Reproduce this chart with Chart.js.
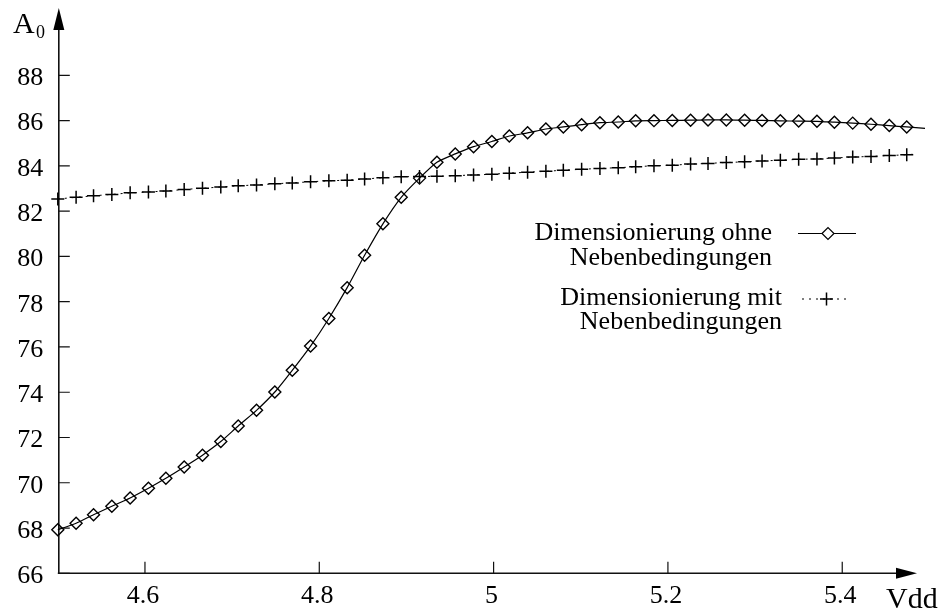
<!DOCTYPE html>
<html>
<head>
<meta charset="utf-8">
<title>A0 über Vdd</title>
<script src="https://cdn.jsdelivr.net/npm/chart.js@4.4.1/dist/chart.umd.min.js"></script>
<style>
    body { margin: 0; background: #fff; }
    #wrap { width: 946px; height: 614px; }
</style>
</head>
<body>
<div id="wrap"><canvas id="gainChart" width="946" height="614"></canvas></div>
<script>
// Vdd values of the marker points
const vddValues = [4.500, 4.521, 4.541, 4.562, 4.583, 4.604, 4.624, 4.645, 4.666, 4.687,
    4.707, 4.728, 4.749, 4.769, 4.790, 4.811, 4.832, 4.852, 4.873, 4.894,
    4.915, 4.935, 4.956, 4.977, 4.998, 5.018, 5.039, 5.060, 5.080, 5.101,
    5.122, 5.143, 5.163, 5.184, 5.205, 5.226, 5.246, 5.267, 5.288, 5.308,
    5.329, 5.350, 5.371, 5.391, 5.412, 5.433, 5.454, 5.474];

// A0 without constraints (diamonds)
const gainOhne = [67.92, 68.21, 68.59, 68.96, 69.33, 69.76, 70.20, 70.70, 71.22, 71.82,
    72.51, 73.20, 74.01, 74.97, 76.04, 77.26, 78.62, 80.05, 81.44, 82.61,
    83.46, 84.16, 84.53, 84.85, 85.08, 85.32, 85.46, 85.63, 85.72, 85.82,
    85.91, 85.94, 85.99, 86.00, 86.01, 86.02, 86.03, 86.03, 86.02, 86.01,
    85.99, 85.98, 85.97, 85.93, 85.89, 85.84, 85.78, 85.72];

// A0 with constraints (crosses)
const gainMit = [82.54, 82.61, 82.68, 82.74, 82.81, 82.85, 82.89, 82.96, 83.01, 83.07,
    83.12, 83.16, 83.21, 83.25, 83.30, 83.34, 83.37, 83.42, 83.48, 83.52,
    83.53, 83.54, 83.57, 83.60, 83.63, 83.68, 83.72, 83.76, 83.81, 83.85,
    83.89, 83.92, 83.96, 84.01, 84.03, 84.08, 84.11, 84.15, 84.18, 84.22,
    84.25, 84.29, 84.31, 84.35, 84.39, 84.42, 84.46, 84.49];

// the curves run on a little past the last marker
const ohneTail = [5.495, 85.66];
const mitTail = [5.485, 84.53];

const xTicks = [4.6, 4.8, 5, 5.2, 5.4];
const yTicks = [66, 68, 70, 72, 74, 76, 78, 80, 82, 84, 86, 88];

const legendOhne = ['Dimensionierung ohne', 'Nebenbedingungen'];
const legendMit = ['Dimensionierung mit', 'Nebenbedingungen'];

const SERIF = "'Liberation Serif', 'Times New Roman', serif";

function toPoints(xs, ys, tail) {
    const pts = xs.map((x, i) => ({ x: x, y: ys[i] }));
    pts.push({ x: tail[0], y: tail[1] });
    return pts;
}

function hideLast(ctx) {
    return ctx.dataIndex === ctx.dataset.data.length - 1 ? 0 : 6.5;
}

const axisPlugin = {
    id: 'axisPlugin',
    beforeDatasetsDraw(chart) {
        const ctx = chart.ctx;
        const xs = chart.scales.x;
        const ys = chart.scales.y;
        const ax = xs.getPixelForValue(4.5) + 1;
        const ay = ys.getPixelForValue(66);

        ctx.save();
        ctx.strokeStyle = '#111';
        ctx.fillStyle = '#000';
        ctx.lineWidth = 1.6;

        // axes
        ctx.beginPath();
        ctx.moveTo(ax, ay);
        ctx.lineTo(ax, 30);
        ctx.moveTo(ax - 1, ay);
        ctx.lineTo(898, ay);
        ctx.stroke();

        // arrow heads
        ctx.beginPath();
        ctx.moveTo(ax, 8);
        ctx.lineTo(ax - 5.5, 30);
        ctx.lineTo(ax + 5.5, 30);
        ctx.closePath();
        ctx.fill();
        ctx.beginPath();
        ctx.moveTo(917, ay);
        ctx.lineTo(896, ay - 5.5);
        ctx.lineTo(896, ay + 5.5);
        ctx.closePath();
        ctx.fill();

        // tick marks pointing inwards
        ctx.lineWidth = 1.2;
        ctx.beginPath();
        yTicks.forEach(v => {
            const py = ys.getPixelForValue(v);
            ctx.moveTo(ax, py);
            ctx.lineTo(ax + 11, py);
        });
        xTicks.forEach(v => {
            const px = xs.getPixelForValue(v);
            ctx.moveTo(px, ay);
            ctx.lineTo(px, ay - 11.5);
        });
        ctx.stroke();

        // axis titles
        ctx.textAlign = 'left';
        ctx.textBaseline = 'alphabetic';
        ctx.font = '30px ' + SERIF;
        ctx.fillText('A', 13, 33);
        ctx.fillText('Vdd', 886, 608);
        ctx.font = '18px ' + SERIF;
        ctx.fillText('0', 36, 38);
        ctx.restore();
    },
    afterDatasetsDraw(chart) {
        const ctx = chart.ctx;
        ctx.save();
        ctx.fillStyle = '#000';
        ctx.strokeStyle = '#000';
        ctx.font = '26px ' + SERIF;
        ctx.textAlign = 'right';
        ctx.textBaseline = 'alphabetic';

        ctx.fillText(legendOhne[0], 772, 240);
        ctx.fillText(legendOhne[1], 772, 264.5);
        ctx.fillText(legendMit[0], 782, 304.5);
        ctx.fillText(legendMit[1], 782, 329);

        // legend samples
        ctx.lineWidth = 1.2;
        ctx.beginPath();
        ctx.moveTo(798, 233.5);
        ctx.lineTo(856, 233.5);
        ctx.stroke();
        ctx.fillStyle = '#fff';
        Chart.helpers.drawPoint(ctx, { pointStyle: 'rectRot', radius: 6, borderWidth: 1.4 }, 828, 233.5);

        ctx.setLineDash([2, 5]);
        ctx.beginPath();
        ctx.moveTo(802, 299);
        ctx.lineTo(846, 299);
        ctx.stroke();
        ctx.setLineDash([]);
        ctx.lineWidth = 1.5;
        Chart.helpers.drawPoint(ctx, { pointStyle: 'cross', radius: 6.5, borderWidth: 1.5 }, 826.5, 299);
        ctx.restore();
    }
};

function drawGainChart() {
    const ctx = document.getElementById('gainChart').getContext('2d');

    new Chart(ctx, {
        type: 'line',
        data: {
            datasets: [
                {
                    label: legendOhne.join(' '),
                    data: toPoints(vddValues, gainOhne, ohneTail),
                    borderColor: '#000',
                    borderWidth: 1.2,
                    tension: 0.2,
                    pointStyle: 'rectRot',
                    pointRadius: ctx => hideLast(ctx) ? 6 : 0,
                    pointBorderWidth: 1.4,
                    pointBorderColor: '#000',
                    pointBackgroundColor: 'rgba(0,0,0,0)',
                    fill: false,
                    clip: false
                },
                {
                    label: legendMit.join(' '),
                    data: toPoints(vddValues, gainMit, mitTail),
                    borderColor: '#000',
                    borderWidth: 1,
                    borderDash: [2, 5],
                    tension: 0,
                    pointStyle: 'cross',
                    pointRadius: hideLast,
                    pointBorderWidth: 1.5,
                    pointBorderColor: '#000',
                    fill: false,
                    clip: false
                }
            ]
        },
        options: {
            responsive: false,
            animation: false,
            events: [],
            layout: { padding: { top: 12.2, right: 16.6, left: 0, bottom: 0 } },
            plugins: {
                legend: { display: false },
                tooltip: { enabled: false }
            },
            scales: {
                x: {
                    type: 'linear',
                    min: 4.5,
                    max: 5.5,
                    afterBuildTicks: scale => { scale.ticks = xTicks.map(v => ({ value: v })); },
                    afterFit: scale => { scale.height = 40.7; },
                    grid: { display: false, drawTicks: false },
                    border: { display: false },
                    ticks: {
                        color: '#000',
                        font: { family: SERIF, size: 26 },
                        padding: 7,
                        labelOffset: -2,
                        maxRotation: 0,
                        autoSkip: false,
                        callback: v => String(v)
                    }
                },
                y: {
                    type: 'linear',
                    min: 66,
                    max: 90,
                    afterBuildTicks: scale => { scale.ticks = yTicks.map(v => ({ value: v })); },
                    afterFit: scale => { scale.width = 57.8; },
                    grid: { display: false, drawTicks: false },
                    border: { display: false },
                    ticks: {
                        color: '#000',
                        font: { family: SERIF, size: 26 },
                        padding: 14.5,
                        labelOffset: 3,
                        autoSkip: false,
                        callback: v => String(v)
                    }
                }
            }
        },
        plugins: [axisPlugin]
    });
}

document.addEventListener('DOMContentLoaded', drawGainChart);
</script>
</body>
</html>
